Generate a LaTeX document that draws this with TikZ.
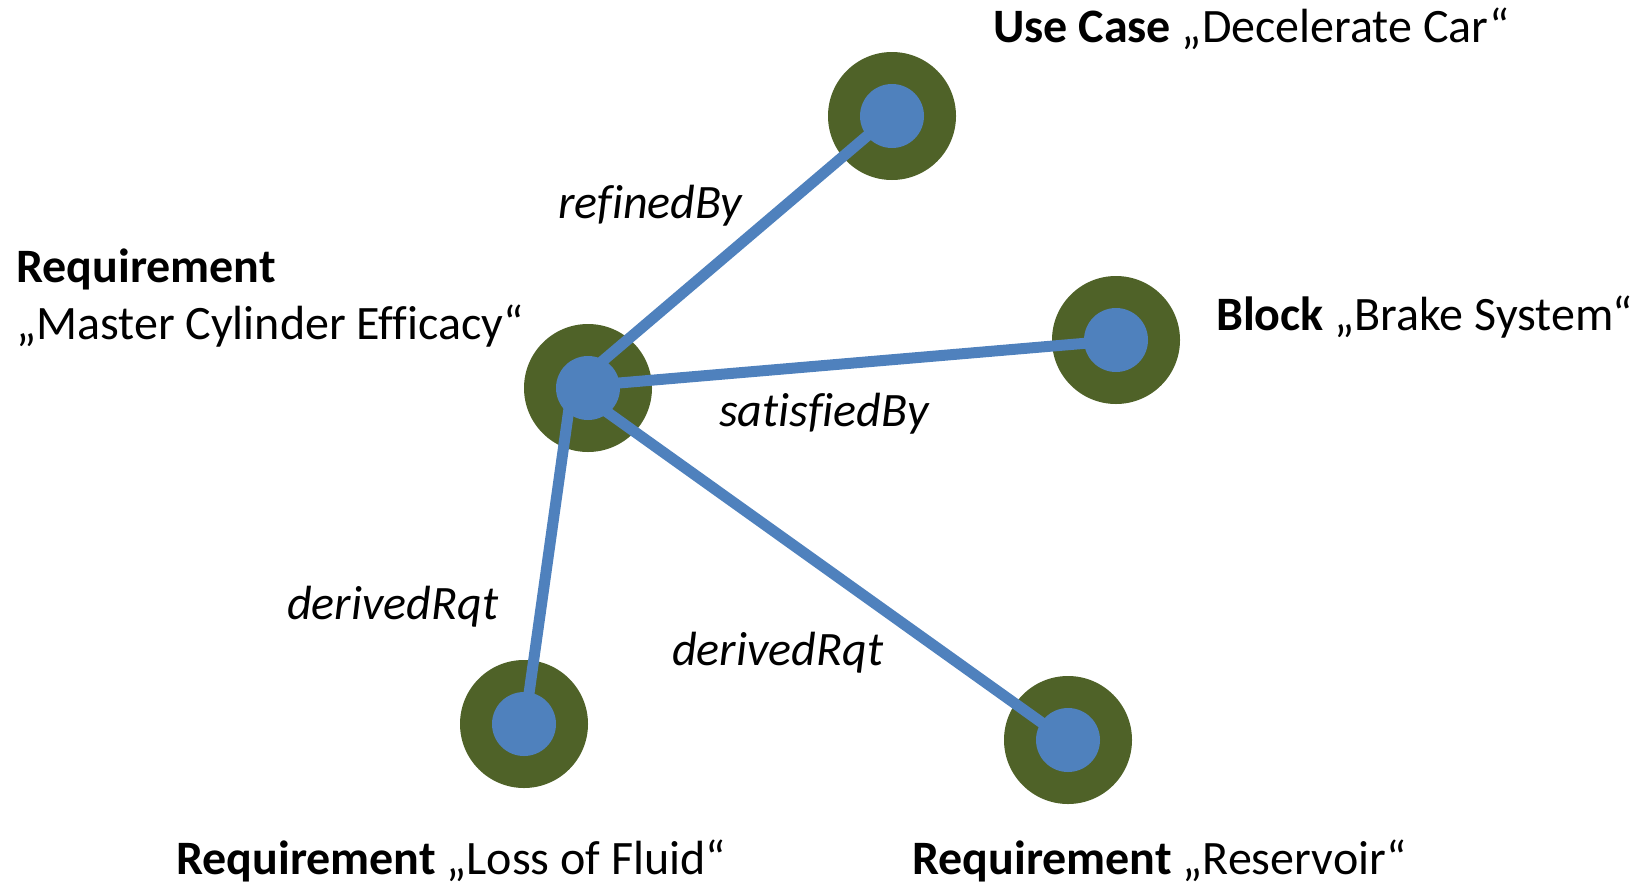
\documentclass[tikz,border=0pt]{standalone}
\usepackage{fontspec}
\setmainfont[RawFeature={-liga}]{Carlito}
\definecolor{ringgreen}{HTML}{4F6228}
\definecolor{linkblue}{HTML}{4F81BD}
\tikzset{
  outerdisc/.style={circle, fill=ringgreen, minimum size=128pt, inner sep=0pt, outer sep=0pt},
  innerdisc/.style={circle, fill=linkblue, minimum size=64pt, inner sep=0pt, outer sep=0pt},
  link/.style={draw=linkblue, line width=11pt, line cap=butt},
  caption/.style={anchor=base west, inner sep=0pt, font=\fontsize{48}{58}\selectfont},
  relname/.style={anchor=base west, inner sep=0pt, font=\fontsize{48}{58}\selectfont\itshape}
}
\begin{document}
\begin{tikzpicture}[x=1pt, y=-1pt]
\useasboundingbox (0,0) rectangle (1651,884);

% outer rings
\node[outerdisc] (hubO)   at (588,388) {};
\node[outerdisc] (ucO)    at (892,116) {};
\node[outerdisc] (brakeO) at (1116,340) {};
\node[outerdisc] (lossO)  at (524,724) {};
\node[outerdisc] (resO)   at (1068,740) {};

% inner discs lying under the links
\node[innerdisc] (hub)  at (588,388) {};
\node[innerdisc] (loss) at (524,724) {};
\node[innerdisc] (res)  at (1068,740) {};

% link end points
\coordinate (hubend)   at (572,387);
\coordinate (ucend)    at (880,125);
\coordinate (brakeend) at (1100,342);
\coordinate (lossend)  at (525,722);
\coordinate (resend)   at (1066,740);

\draw[link] (hubend) -- (ucend);
\draw[link] (hubend) -- (brakeend);
\draw[link] (hubend) -- (lossend);
\draw[link] (hubend) -- (resend);

% inner discs lying over the links
\node[innerdisc] (uc)    at (892,116) {};
\node[innerdisc] (brake) at (1116,340) {};

% element captions
\node[caption] (ucT)    at (993,42)  {\textbf{Use Case} „Decelerate Car“};
\node[caption] (brakeT) at (1216,330) {\textbf{Block} „Brake System“};
\node[caption] (hubT1)  at (16,282)  {\textbf{Requirement}};
\node[caption] (hubT2)  at (16,339)  {„Master Cylinder Efficacy“};
\node[caption] (lossT)  at (176,874) {\textbf{Requirement} „Loss of Fluid“};
\node[caption] (resT)   at (912,874) {\textbf{Requirement} „Reservoir“};

% relation names
\node[relname] (r1) at (558,218) {refinedBy};
\node[relname] (r2) at (719,426) {satisfiedBy};
\node[relname] (r3) at (287,619) {derivedRqt};
\node[relname] (r4) at (672,665) {derivedRqt};
\end{tikzpicture}
\end{document}
